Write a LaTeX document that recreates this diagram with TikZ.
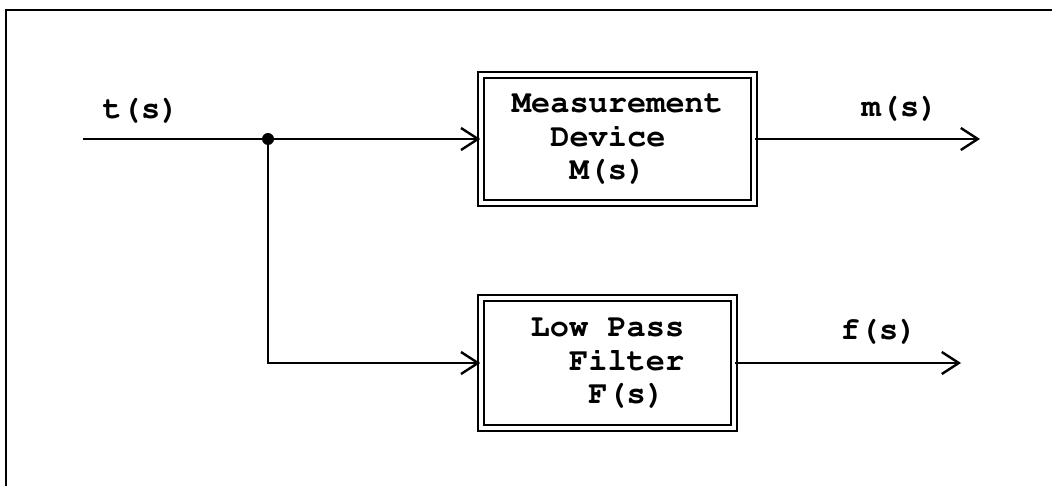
\documentclass[tikz,border=0pt]{standalone}
\usepackage[T1]{fontenc}
\usepackage{courier}
\usetikzlibrary{arrows.meta}

\begin{document}
\begin{tikzpicture}[x=0.5pt,y=-0.5pt,line width=1.2pt,
    sig/.style={-{Straight Barb[length=8.5pt,width=11pt,line width=1.2pt]}},
    block/.style={draw,double,double distance=2pt,line width=0.8pt,align=left,
      font=\ttfamily\bfseries\fontsize{16}{16.75}\selectfont,inner sep=0pt},
    lbl/.style={font=\ttfamily\bfseries\fontsize{16}{16.75}\selectfont,inner sep=0pt}]
  \useasboundingbox (0,0) rectangle (1052,486);
  \draw (6,486) -- (6,10) -- (1052,10);
  % blocks
  \node[block,minimum width=136.5pt,minimum height=64pt] (meas) at (617.5,139)
    {Measurement\\\hphantom{xx}Device\\\hphantom{xxx}M(s)};
  \node[block,minimum width=126.5pt,minimum height=65pt] (lpf) at (607.5,363)
    {Low Pass\\\hphantom{xx}Filter\\\hphantom{xxx}F(s)};
  \coordinate (tin) at (83,139);
  \coordinate (split) at (268,139);
  \coordinate (mout) at (980,139);
  \coordinate (fout) at (961,363);
  % signals
  \draw (tin) -- (split);
  \draw[sig] (split) -- (meas);
  \draw[sig] (split) |- (lpf);
  \draw[sig] (meas) -- (mout);
  \draw[sig] (lpf) -- (fout);
  \fill (split) circle (3pt);
  \node[lbl] (tlbl) at (141,110) {t(s)};
  \node[lbl] (mlbl) at (900,108) {m(s)};
  \node[lbl] (flbl) at (879,331) {f(s)};
\end{tikzpicture}
\end{document}
